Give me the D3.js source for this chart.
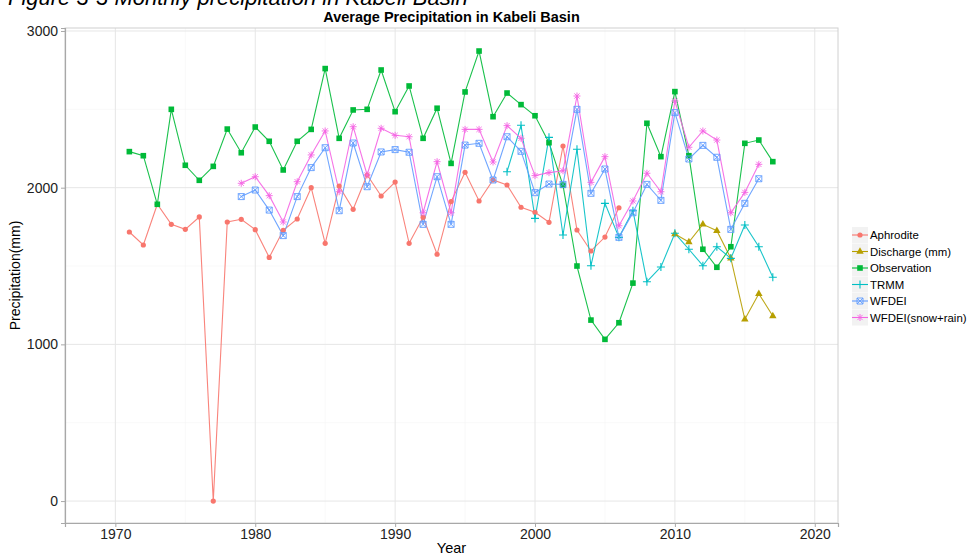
<!DOCTYPE html>
<html><head><meta charset="utf-8">
<script src="https://cdn.jsdelivr.net/npm/d3@7"></script>
<style>
html,body{margin:0;padding:0;background:#fff;}
svg{display:block;font-family:"Liberation Sans",Arial,sans-serif;}
</style></head>
<body><svg id="c" width="968" height="558"></svg>
<script>
const seriesNames = ["Aphrodite","Discharge (mm)","Observation","TRMM","WFDEI","WFDEI(snow+rain)"];
const xTicks = [1970,1980,1990,2000,2010,2020];
const yTicks = [0,1000,2000,3000];

const aphroditeYears = d3.range(1971, 2007);
const aphroditeValues = [1717,1634,1894,1766,1734,1813,0,1781,1798,1732,1555,1728,1800,2000,1645,2010,1862,2081,1947,2036,1645,1811,1575,1911,2098,1915,2049,2017,1875,1843,1779,2266,1730,1596,1685,1872];

const dischargeYears = d3.range(2010, 2018);
const dischargeValues = [1704,1653,1766,1725,1549,1160,1323,1181];

const observationYears = d3.range(1971, 2018);
const observationValues = [2230,2204,1894,2500,2143,2047,2136,2374,2223,2387,2296,2113,2296,2372,2760,2315,2496,2500,2751,2485,2649,2315,2507,2155,2611,2872,2453,2604,2530,2459,2287,2015,1500,1155,1032,1138,1391,2411,2198,2613,2204,1607,1492,1623,2283,2304,2166];

const trmmYears = d3.range(1998, 2018);
const trmmValues = [2102,2398,1804,2321,1698,2245,1502,1900,1683,1853,1400,1494,1709,1607,1502,1623,1549,1762,1623,1428];

const wfdeiYears = d3.range(1979, 2017);
const wfdeiValues = [1943,1985,1857,1694,1943,2128,2255,1853,2285,2006,2228,2243,2226,1766,2070,1766,2272,2283,2049,2325,2232,1968,2023,2021,2500,1964,2119,1683,1840,2021,1919,2479,2183,2270,2194,1734,1900,2057];

const snowRainYears = d3.range(1979, 2017);
const snowRainValues = [2028,2070,1949,1781,2038,2209,2362,1974,2389,2081,2379,2334,2325,1840,2166,1840,2372,2372,2164,2396,2315,2077,2096,2108,2585,2034,2198,1757,1915,2092,1974,2553,2258,2362,2304,1840,1970,2149];

const colors = ["#F8766D","#B79F00","#00BA38","#00BFC4","#619CFF","#F564E3"];
const shapes = ["circle","triangle","square","plus","squarecross","asterisk"];

const series = [
  {name: seriesNames[0], years: aphroditeYears, values: aphroditeValues},
  {name: seriesNames[1], years: dischargeYears, values: dischargeValues},
  {name: seriesNames[2], years: observationYears, values: observationValues},
  {name: seriesNames[3], years: trmmYears, values: trmmValues},
  {name: seriesNames[4], years: wfdeiYears, values: wfdeiValues},
  {name: seriesNames[5], years: snowRainYears, values: snowRainValues}
].map((s,i)=>({...s, color: colors[i], shape: shapes[i], pts: s.years.map((y,j)=>({x:y, y:s.values[j]}))}));

const svg = d3.select("#c");
const L = 65, R = 838, T = 28, B = 523;

const x = d3.scaleLinear().domain([1966.4, 2021.66]).range([L, R]);
const y = d3.scaleLinear().domain([-140, 3019]).range([B, T]);

// top caption (cropped in the source figure)
svg.append("text").attr("x", 8).attr("y", 5).attr("font-size", 22).attr("font-style","italic")
  .attr("fill","#000").text("Figure 3-3 Monthly precipitation in Kabeli Basin");

// title
svg.append("text").attr("x", (L+R)/2).attr("y", 21.5).attr("text-anchor","middle")
  .attr("font-size", 14.5).attr("font-weight","bold").attr("fill","#000")
  .text("Average Precipitation in Kabeli Basin");

// grid
const g = svg.append("g");
const minorX = [1975,1985,1995,2005,2015];
const minorY = [500,1500,2500];
g.selectAll(".mx").data(minorX).join("line").attr("x1",d=>x(d)).attr("x2",d=>x(d)).attr("y1",T).attr("y2",B)
  .attr("stroke","#F5F5F5").attr("stroke-width",0.6);
g.selectAll(".my").data(minorY).join("line").attr("y1",d=>y(d)).attr("y2",d=>y(d)).attr("x1",L).attr("x2",R)
  .attr("stroke","#F5F5F5").attr("stroke-width",0.6);
g.selectAll(".gx").data(xTicks).join("line").attr("x1",d=>x(d)).attr("x2",d=>x(d)).attr("y1",T).attr("y2",B)
  .attr("stroke","#E6E6E6").attr("stroke-width",1);
g.selectAll(".gy").data(yTicks).join("line").attr("y1",d=>y(d)).attr("y2",d=>y(d)).attr("x1",L).attr("x2",R)
  .attr("stroke","#E6E6E6").attr("stroke-width",1);

// panel border
svg.append("rect").attr("x",L).attr("y",T).attr("width",R-L).attr("height",B-T)
  .attr("fill","none").attr("stroke","#D0D0D0").attr("stroke-width",1);

// axes
const xAxis = svg.append("g").attr("transform",`translate(0,${B})`)
  .call(d3.axisBottom(x).tickValues(xTicks).tickFormat(d3.format("d")).tickSize(4).tickPadding(2));
const yAxis = svg.append("g").attr("transform",`translate(${L},0)`)
  .call(d3.axisLeft(y).tickValues(yTicks).tickFormat(d3.format("d")).tickSize(4).tickPadding(3));
[xAxis,yAxis].forEach(a=>{
  a.select(".domain").attr("stroke","#A8A8A8").attr("stroke-width",1.2);
  a.selectAll(".tick line").attr("stroke","#A8A8A8");
  a.selectAll(".tick text").attr("font-size",14).attr("fill","#222").attr("font-family","Liberation Sans, Arial, sans-serif");
});

svg.append("text").attr("x",(L+R)/2).attr("y",553).attr("text-anchor","middle").attr("font-size",14.5).attr("fill","#000").text("Year");
svg.append("text").attr("transform",`translate(20,${(T+B)/2}) rotate(-90)`).attr("text-anchor","middle")
  .attr("font-size",14).attr("fill","#000").text("Precipitation(mm)");

function drawShape(sel, shape, color) {
  if (shape==="circle") sel.append("circle").attr("r",2.6).attr("fill",color);
  else if (shape==="triangle") sel.append("path").attr("d",d3.symbol(d3.symbolTriangle, 24)()).attr("fill",color);
  else if (shape==="square") sel.append("rect").attr("x",-2.8).attr("y",-2.8).attr("width",5.6).attr("height",5.6).attr("fill",color);
  else if (shape==="plus") sel.append("path").attr("d","M-4,0H4M0,-4V4").attr("stroke",color).attr("stroke-width",1.1).attr("fill","none");
  else if (shape==="squarecross") sel.append("path").attr("d","M-3,-3H3V3H-3Z M-3,-3L3,3 M3,-3L-3,3").attr("stroke",color).attr("stroke-width",0.9).attr("fill","none");
  else if (shape==="asterisk") sel.append("path").attr("d","M-3.5,0H3.5M0,-3.5V3.5M-2.6,-2.6L2.6,2.6M2.6,-2.6L-2.6,2.6").attr("stroke",color).attr("stroke-width",0.9).attr("fill","none");
}

const line = d3.line().x(d=>x(d.x)).y(d=>y(d.y));
const linesG = svg.append("g");
series.forEach(s=>{
  linesG.append("path").datum(s.pts).attr("d",line).attr("fill","none").attr("stroke",s.color).attr("stroke-width",1.1).attr("stroke-opacity",0.9);
});
const ptsG = svg.append("g");
series.forEach(s=>{
  ptsG.selectAll(null).data(s.pts).join("g").attr("transform",d=>`translate(${x(d.x)},${y(d.y)})`)
    .each(function(){ drawShape(d3.select(this), s.shape, s.color); });
});

// legend
const leg = svg.append("g").attr("transform","translate(852,227)");
series.forEach((s,i)=>{
  const row = leg.append("g").attr("transform",`translate(0,${i*16.5})`);
  row.append("rect").attr("x",0).attr("y",0).attr("width",16).attr("height",16).attr("fill","#F2F2F2");
  row.append("line").attr("x1",0).attr("x2",16).attr("y1",8).attr("y2",8).attr("stroke",s.color).attr("stroke-width",1.1);
  const p = row.append("g").attr("transform","translate(8,8)");
  drawShape(p, s.shape, s.color);
  row.append("text").attr("x",18).attr("y",12).attr("font-size",11.4).attr("fill","#000").text(s.name);
});
</script></body></html>
